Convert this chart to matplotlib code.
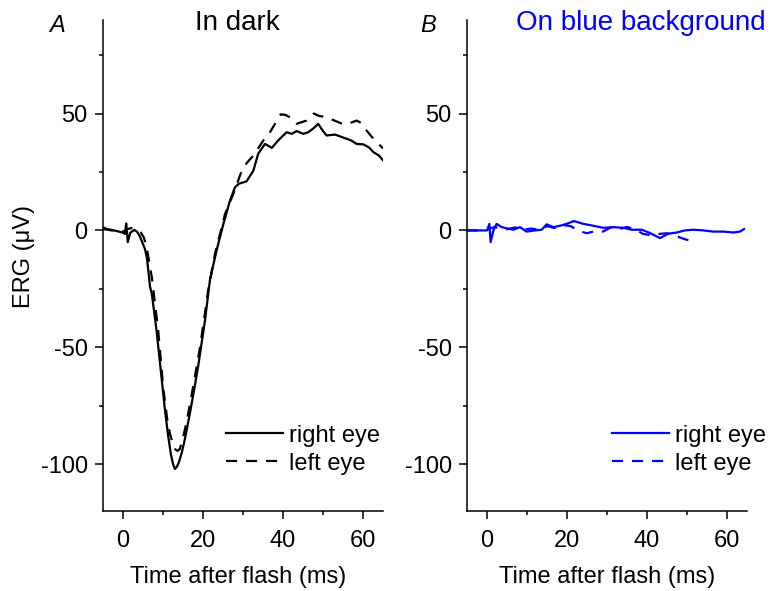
import matplotlib.pyplot as plt
from matplotlib.ticker import MultipleLocator

plt.rcParams['font.family'] = ['Liberation Sans', 'DejaVu Sans']
plt.rcParams['axes.unicode_minus'] = False

# panel A, in dark
dark_right_t = [-5, -3, -1, 0, 0.5, 0.8, 1.2, 1.8, 2.8, 3.5, 4.2, 4.8, 5.5, 6.0, 6.75, 7.2, 8.4, 9.7,
                10.5, 11.3, 12.0, 12.6, 13.0, 13.5, 14.0, 14.7, 15.5, 16.75, 17.8, 18.8, 20.5, 21.75,
                23.4, 25.1, 26.75, 28.0, 29.0, 30.0, 30.9, 32.6, 33.8, 35.5, 37.2, 38.8, 40.9, 42.2,
                43.4, 45.1, 46.3, 47.5, 48.8, 50.0, 50.9, 53.0, 55.9, 57.0, 58.4, 60.1, 61.5, 62.6,
                64.0, 65.0]
dark_right_v = [0.5, 0.3, -0.5, -1, -1.5, 3, -5, -1, 0.2, -0.5, -2.5, -5, -8, -12, -24, -27, -43, -64,
                -77, -88, -96, -100.5, -102, -101, -99, -95, -89, -78, -68, -58, -38.5, -21,
                -8.5, 2.8, 12.8, 18.5, 20, 20.5, 21, 25.6, 32.8, 37, 35.3, 38.5, 42, 41.3,
                42.5, 41.3, 42, 43.5, 45.6, 42.5, 40.6, 41, 39.2, 38.5, 37, 36.8, 35.5, 33.5,
                32, 30]

dark_left_t = [-5, -4, -3, -1, 0, 1, 2, 3, 4, 4.5, 5.2, 5.9, 6.5, 7.2, 7.6, 8.8, 10.1, 11.0, 11.75,
               12.5, 13.0, 13.6, 14.2, 15.1, 16.0, 17.2, 19.25, 21.3, 23.0, 25.5, 27.6, 29.7, 31.0,
               32.6, 35.1, 36.75, 38.0, 39.4, 40.5, 41.75, 43.4, 45.9, 47.75, 49.0, 50.9, 53.4,
               55.0, 56.3, 58.4, 59.5, 60.9, 62.2, 64.7, 65.0]
dark_left_v = [1.4, 0.5, 0, 0, -0.5, 0.5, 1, 0.5, -0.5, -1, -3, -7, -13, -20, -25.6, -42.7, -68, -80, -87,
               -91.5, -93.5, -94.3, -93.5, -88, -81, -70, -50, -25.6, -10, 7, 15.7, 25.6, 29,
               32, 38.5, 42, 45.6, 49.6, 49.5, 48.4, 45.6, 47, 50, 49, 48.4, 46.6,
               45.5, 45.6, 47, 46, 42.7, 40, 35.6, 35]

# panel B, on blue background
blue_right_t = [-5, -2, 0, 0.6, 0.9, 1.6, 2.4, 3.7, 4.9, 6.6, 8.25, 9.9, 12, 13.7, 14.9, 16.6, 18.25,
                19.9, 21.75, 24.1, 26.6, 29.1, 31.6, 34.1, 36.2, 38.7, 40.75, 43.25, 45.3, 47.4,
                49.5, 51.6, 54.1, 56.6, 59.1, 61.6, 63.25, 64.25]
blue_right_v = [0, 0, 0, 2.8, -5, 0, 2.8, 1.4, 0.9, 0.3, 1.4, -0.5, 0, 0.3, 2.6, 1.4, 2,
                2.8, 4, 2.8, 2, 1.1, 1.4, 1.1, 0.3, 0.3, -1.1, -3.3, -1.4, -0.9,
                0, 0.3, 0, -0.5, -0.5, -0.9, -0.5, 0.6]

blue_left_t = [-5, -2, 0, 1, 2, 3, 5, 7, 9, 11, 13, 15, 17, 19, 21, 23, 25, 27, 29, 31, 33, 35, 37,
               39, 41, 43, 45, 47, 49, 51]
blue_left_v = [0, 0, 0.3, 1, 1.5, 0.8, 0.5, 1.3, 0.3, 0.8, 0.3, 1.8, 1.0, 2.3, 1.8, -0.3, -1.2, -0.3,
               -0.5, 1.3, 0.5, 1.5, 0.6, -1.5, -2, -1.5, -1.2, -2.2, -3.5, -4.5]

W, H = 782, 591
fig = plt.figure(figsize=(W / 100, H / 100), dpi=100)

ax_a = fig.add_axes([103 / W, 1 - 511 / H, 280 / W, 491 / H])
ax_b = fig.add_axes([467 / W, 1 - 511 / H, 280 / W, 491 / H])

dash = (5, 4)
ax_a.plot(dark_right_t, dark_right_v, color='black', lw=1.6, label='right eye')
ax_a.plot(dark_left_t, dark_left_v, color='black', lw=1.6, dashes=dash, label='left eye')
ax_b.plot(blue_right_t, blue_right_v, color='#0000ff', lw=1.6, label='right eye')
ax_b.plot(blue_left_t, blue_left_v, color='#0000ff', lw=1.6, dashes=dash, label='left eye')

for ax in (ax_a, ax_b):
    ax.set_xlim(-5, 65)
    ax.set_ylim(-120, 90)
    ax.xaxis.set_major_locator(MultipleLocator(20))
    ax.xaxis.set_minor_locator(MultipleLocator(10))
    ax.yaxis.set_major_locator(MultipleLocator(50))
    ax.yaxis.set_minor_locator(MultipleLocator(25))
    ax.spines['top'].set_visible(False)
    ax.spines['right'].set_visible(False)
    for s in ('left', 'bottom'):
        ax.spines[s].set_linewidth(1.1)
    ax.tick_params(which='major', direction='out', length=6, width=1.1, labelsize=17, pad=5)
    ax.tick_params(which='minor', direction='out', length=3, width=1.1)
    ax.tick_params(axis='x', which='major', pad=8)

leg_kw = dict(loc='lower right', frameon=False, fontsize=17, handlelength=2.4,
              handletextpad=0.25, labelspacing=0.25, borderpad=0)
ax_a.legend(bbox_to_anchor=(1.03, 0.05), **leg_kw)
ax_b.legend(bbox_to_anchor=(1.11, 0.05), **leg_kw)

fig.text(24 / W, 1 - 256 / H, 'ERG (μV)', rotation=90, ha='center', va='center', fontsize=17)
fig.text(238 / W, 1 - 577 / H, 'Time after flash (ms)', ha='center', va='center', fontsize=17)
fig.text(607 / W, 1 - 577 / H, 'Time after flash (ms)', ha='center', va='center', fontsize=17)

fig.text(57 / W, 1 - 25 / H, 'A', style='italic', ha='center', va='center', fontsize=17)
fig.text(428 / W, 1 - 25 / H, 'B', style='italic', ha='center', va='center', fontsize=17)
fig.text(237 / W, 1 - 23 / H, 'In dark', ha='center', va='center', fontsize=20)
fig.text(641 / W, 1 - 23 / H, 'On blue background', ha='center', va='center', fontsize=20,
         color='#0000ff')

fig.savefig('out.png', dpi=100)
